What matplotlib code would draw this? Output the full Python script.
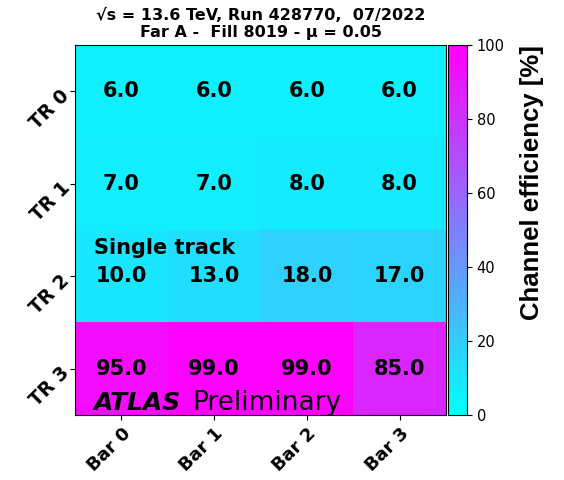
import numpy as np
import matplotlib.pyplot as plt

# channel efficiency per train (rows) and bar (columns)
trains = ["TR 0", "TR 1", "TR 2", "TR 3"]
bars = ["Bar 0", "Bar 1", "Bar 2", "Bar 3"]
eff_tr0 = [6.0, 6.0, 6.0, 6.0]
eff_tr1 = [7.0, 7.0, 8.0, 8.0]
eff_tr2 = [10.0, 13.0, 18.0, 17.0]
eff_tr3 = [95.0, 99.0, 99.0, 85.0]

eff = np.array([eff_tr0, eff_tr1, eff_tr2, eff_tr3])

W, H = 564, 480
fig = plt.figure(figsize=(W / 100, H / 100), dpi=100)
ax = fig.add_axes([75 / W, 1 - 415 / H, 371 / W, 370 / H])
cax = fig.add_axes([448 / W, 1 - 415 / H, 19 / W, 370 / H])

im = ax.imshow(eff, cmap="cool", vmin=0, vmax=100, aspect="auto")

for i in range(eff.shape[0]):
    for j in range(eff.shape[1]):
        ax.text(j, i, f"{eff[i, j]:.1f}", ha="center", va="center",
                fontsize=15, fontweight="bold")

ax.set_xticks(range(len(bars)))
ax.set_xticklabels(bars, rotation=45, ha="right", rotation_mode="anchor",
                   fontsize=13, fontweight="bold")
ax.set_yticks(range(len(trains)))
ax.set_yticklabels(trains, rotation=45, ha="right", rotation_mode="anchor",
                   fontsize=13.5, fontweight="bold")

ax.text(-0.30, 1.70, "Single track", ha="left", va="center",
        fontsize=15, fontweight="bold")
ax.text(-0.30, 3.37, "ATLAS", ha="left", va="center",
        fontsize=18, fontweight="bold", style="italic")
ax.text(0.77, 3.37, "Preliminary", ha="left", va="center", fontsize=19)

ax.set_title("√s = 13.6 TeV, Run 428770,  07/2022\nFar A -  Fill 8019 - μ = 0.05",
             fontsize=11.5, fontweight="bold", pad=6, linespacing=1.1)

cb = fig.colorbar(im, cax=cax)
cb.set_ticks([0, 20, 40, 60, 80, 100])
cb.ax.tick_params(labelsize=10.5)
cb.set_label("Channel efficiency [%]", fontsize=18.5, fontweight="bold",
             family="Liberation Sans", labelpad=11, loc="top")

fig.savefig("out.png", dpi=100)
